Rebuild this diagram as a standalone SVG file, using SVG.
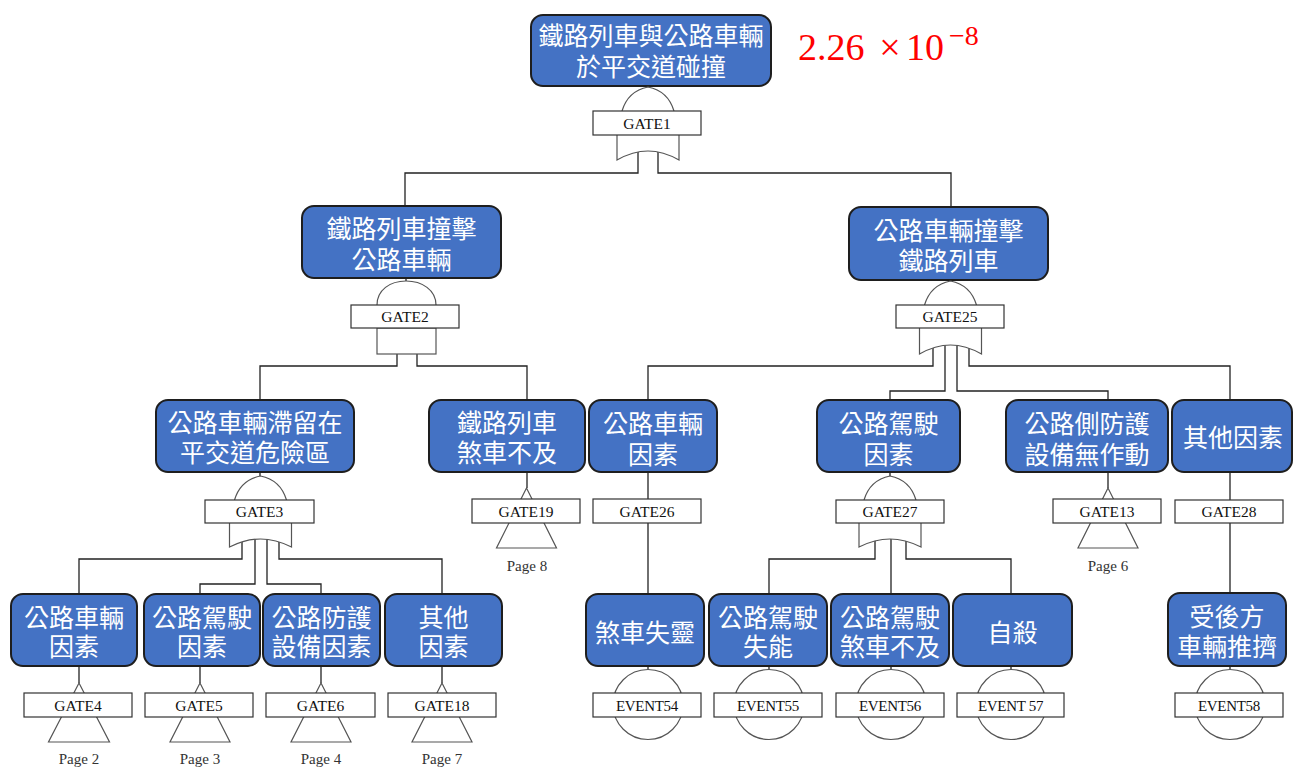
<svg xmlns="http://www.w3.org/2000/svg" width="1293" height="769" viewBox="0 0 1293 769">
<style>
.node rect{fill:#4472C4;stroke:#1e1e1e;stroke-width:2}
.nt{font-family:"Noto Sans CJK TC","Noto Sans CJK SC",sans-serif;font-size:25px;fill:#fff;text-anchor:middle}
.gate{fill:#fff;stroke:#555;stroke-width:1.2}
.gbox{fill:#fff;stroke:#333;stroke-width:1.2}
.gl{font-family:"Liberation Serif",serif;font-size:15.5px;text-anchor:middle;fill:#111}
.el{font-family:"Liberation Serif",serif;font-size:15px;text-anchor:middle;fill:#111;letter-spacing:-0.3px}
.pg{font-family:"Liberation Serif",serif;font-size:15px;text-anchor:middle;fill:#333}
.conn{fill:none;stroke:#222;stroke-width:1.3}
.prob{font-family:"Liberation Serif",serif;fill:#FF0000}
</style>
<rect width="1293" height="769" fill="#fff"/>

<g id="connectors" class="conn">
<path d="M648,86 V88"/>
<path d="M638,151 V173 H405 V206"/>
<path d="M658,151 V173 H951 V207"/>
<path d="M406,278 V281"/>
<path d="M951,280 V281"/>
<path d="M397,354 V366 H260 V400"/>
<path d="M417,354 V366 H527 V400"/>
<path d="M933,347 V366 H648 V400"/>
<path d="M945,345 V391 H890 V400"/>
<path d="M957,345 V391 H1108 V400"/>
<path d="M969,347 V366 H1230 V400"/>
<path d="M260,472 V476"/>
<path d="M890,472 V476"/>
<path d="M527,472 V488"/>
<path d="M1108,472 V488"/>
<path d="M648,472 V594"/>
<path d="M1230,472 V593"/>
<path d="M242,540 V559 H79 V594"/>
<path d="M255,538 V584 H200 V594"/>
<path d="M267,538 V584 H321 V594"/>
<path d="M279,540 V559 H442 V594"/>
<path d="M875,540 V559 H769 V594"/>
<path d="M891,538 V594"/>
<path d="M906,540 V559 H1011 V594"/>
<path d="M79,666 V683"/>
<path d="M200,666 V683"/>
<path d="M321,666 V683"/>
<path d="M442,666 V683"/>
<path d="M648,666 V670"/>
<path d="M769,666 V670"/>
<path d="M891,666 V670"/>
<path d="M1011,666 V670"/>
<path d="M1230,666 V670"/>
</g>

<text class="prob" font-size="38"><tspan x="798" y="60">2.26</tspan><tspan x="890" y="60" text-anchor="middle">×</tspan><tspan x="906" y="60">10</tspan><tspan x="949" y="45" font-size="28">−8</tspan></text>

<g id="top" class="node">
<rect x="531" y="15" width="240" height="71" rx="12"/>
<text class="nt"><tspan x="651" y="44.5">鐵路列車與公路車輛</tspan><tspan x="651" y="75.5">於平交道碰撞</tspan></text>
</g>
<g id="gate1">
<path class="gate" d="M622,111 Q628,91 648,87 Q668,91 674,111"/>
<path class="gate" d="M617,135 V160 Q633,151 648,151 Q663,151 679,160 V135"/>
<rect class="gbox" x="593" y="111" width="108" height="24"/>
<text class="gl" x="647" y="129">GATE1</text>
</g>

<g id="n-rail" class="node">
<rect x="302" y="206" width="199" height="72" rx="12"/>
<text class="nt"><tspan x="401.5" y="237.5">鐵路列車撞擊</tspan><tspan x="401.5" y="268.5">公路車輛</tspan></text>
</g>
<g id="gate2">
<path class="gate" d="M377,305 C377,290 390,281 406,281 C422,281 436,290 436,305"/>
<rect class="gate" x="377" y="328" width="59" height="26"/>
<rect class="gbox" x="351" y="305" width="108" height="23"/>
<text class="gl" x="405" y="322">GATE2</text>
</g>

<g id="n-road" class="node">
<rect x="849" y="207" width="199" height="73" rx="12"/>
<text class="nt"><tspan x="948.5" y="239.5">公路車輛撞擊</tspan><tspan x="948.5" y="269.5">鐵路列車</tspan></text>
</g>
<g id="gate25">
<path class="gate" d="M924.5,305 Q930.5,285 950.5,281 Q970.5,285 976.5,305"/>
<path class="gate" d="M919.5,328 V354 Q935.5,345 950.5,345 Q965.5,345 981.5,354 V328"/>
<rect class="gbox" x="896" y="305" width="108" height="23"/>
<text class="gl" x="950" y="322">GATE25</text>
</g>

<g id="n-stuck" class="node">
<rect x="156" y="400" width="198" height="72" rx="12"/>
<text class="nt"><tspan x="255" y="432">公路車輛滯留在</tspan><tspan x="255" y="462">平交道危險區</tspan></text>
</g>
<g id="gate3">
<path class="gate" d="M234.5,500 Q240.5,480 260.5,476 Q280.5,480 286.5,500"/>
<path class="gate" d="M229.5,523 V547 Q245.5,539 260.5,539 Q275.5,539 291.5,547 V523"/>
<rect class="gbox" x="205" y="500" width="109" height="23"/>
<text class="gl" x="259.5" y="517">GATE3</text>
</g>

<g id="n-railbrake" class="node">
<rect x="429" y="400" width="156" height="72" rx="12"/>
<text class="nt"><tspan x="507" y="432">鐵路列車</tspan><tspan x="507" y="462">煞車不及</tspan></text>
</g>
<g id="gate19">
<path class="gate" d="M526.5,488 L496.5,548 H556.5 Z"/>
<rect class="gbox" x="472" y="499" width="108" height="24"/>
<text class="gl" x="526" y="517">GATE19</text>
<text class="pg" x="527" y="571">Page 8</text>
</g>

<g id="n-vehfac" class="node">
<rect x="589" y="400" width="128" height="72" rx="12"/>
<text class="nt"><tspan x="653" y="433">公路車輛</tspan><tspan x="653" y="463.5">因素</tspan></text>
</g>
<g id="gate26">
<rect class="gbox" x="593" y="499" width="108" height="24"/>
<text class="gl" x="647" y="517">GATE26</text>
</g>

<g id="n-drvfac" class="node">
<rect x="817" y="400" width="143" height="72" rx="12"/>
<text class="nt"><tspan x="888.5" y="433">公路駕駛</tspan><tspan x="888.5" y="463.5">因素</tspan></text>
</g>
<g id="gate27">
<path class="gate" d="M864,500 Q870,480 890,476 Q910,480 916,500"/>
<path class="gate" d="M859,523 V547 Q875,539 890,539 Q905,539 921,547 V523"/>
<rect class="gbox" x="836" y="500" width="108" height="23"/>
<text class="gl" x="890" y="517">GATE27</text>
</g>

<g id="n-side" class="node">
<rect x="1006" y="400" width="162" height="72" rx="12"/>
<text class="nt"><tspan x="1087" y="433">公路側防護</tspan><tspan x="1087" y="463.5">設備無作動</tspan></text>
</g>
<g id="gate13">
<path class="gate" d="M1108,488 L1078,548 H1138 Z"/>
<rect class="gbox" x="1053" y="499" width="108" height="24"/>
<text class="gl" x="1107" y="517">GATE13</text>
<text class="pg" x="1108" y="571">Page 6</text>
</g>

<g id="n-other" class="node">
<rect x="1172" y="400" width="120" height="72" rx="12"/>
<text class="nt" x="1233" y="447">其他因素</text>
</g>
<g id="gate28">
<rect class="gbox" x="1175" y="500" width="108" height="23"/>
<text class="gl" x="1229" y="517">GATE28</text>
</g>

<g id="b-vehfac" class="node">
<rect x="11" y="594" width="126" height="72" rx="12"/>
<text class="nt"><tspan x="74" y="626.5">公路車輛</tspan><tspan x="74" y="656">因素</tspan></text>
</g>
<g id="gate4">
<path class="gate" d="M79,683 L48.5,742 H109.5 Z"/>
<rect class="gbox" x="24" y="693" width="108" height="24"/>
<text class="gl" x="78" y="710.5">GATE4</text>
<text class="pg" x="79" y="764">Page 2</text>
</g>

<g id="b-drvfac" class="node">
<rect x="144" y="594" width="116" height="72" rx="12"/>
<text class="nt"><tspan x="202" y="626.5">公路駕駛</tspan><tspan x="202" y="656">因素</tspan></text>
</g>
<g id="gate5">
<path class="gate" d="M200,683 L170,742 H230 Z"/>
<rect class="gbox" x="145" y="693" width="108" height="24"/>
<text class="gl" x="199" y="710.5">GATE5</text>
<text class="pg" x="200" y="764">Page 3</text>
</g>

<g id="b-protfac" class="node">
<rect x="263" y="594" width="117" height="72" rx="12"/>
<text class="nt"><tspan x="321.5" y="626.5">公路防護</tspan><tspan x="321.5" y="656">設備因素</tspan></text>
</g>
<g id="gate6">
<path class="gate" d="M321,683 L291,742 H351 Z"/>
<rect class="gbox" x="266" y="693" width="109" height="24"/>
<text class="gl" x="320.5" y="710.5">GATE6</text>
<text class="pg" x="321" y="764">Page 4</text>
</g>

<g id="b-other" class="node">
<rect x="385" y="594" width="117" height="72" rx="12"/>
<text class="nt"><tspan x="443.5" y="626.5">其他</tspan><tspan x="443.5" y="656">因素</tspan></text>
</g>
<g id="gate18">
<path class="gate" d="M442,683 L412,742 H472 Z"/>
<rect class="gbox" x="388" y="693" width="108" height="24"/>
<text class="gl" x="442" y="710.5">GATE18</text>
<text class="pg" x="442" y="764">Page 7</text>
</g>

<g id="b-brakefail" class="node">
<rect x="586" y="594" width="118" height="72" rx="12"/>
<text class="nt" x="645" y="642">煞車失靈</text>
</g>
<g id="event54">
<circle class="gate" cx="648" cy="704.5" r="35"/>
<rect class="gbox" x="593" y="693" width="108" height="24"/>
<text class="el" x="647" y="710.5">EVENT54</text>
</g>

<g id="b-incap" class="node">
<rect x="709" y="594" width="118" height="72" rx="12"/>
<text class="nt"><tspan x="768" y="626.5">公路駕駛</tspan><tspan x="768" y="656">失能</tspan></text>
</g>
<g id="event55">
<circle class="gate" cx="769" cy="704.5" r="35"/>
<rect class="gbox" x="714" y="693" width="108" height="24"/>
<text class="el" x="768" y="710.5">EVENT55</text>
</g>

<g id="b-drvbrake" class="node">
<rect x="831" y="594" width="118" height="72" rx="12"/>
<text class="nt"><tspan x="890" y="626.5">公路駕駛</tspan><tspan x="890" y="656">煞車不及</tspan></text>
</g>
<g id="event56">
<circle class="gate" cx="891" cy="704.5" r="35"/>
<rect class="gbox" x="836" y="693" width="108" height="24"/>
<text class="el" x="890" y="710.5">EVENT56</text>
</g>

<g id="b-suicide" class="node">
<rect x="953" y="594" width="119" height="72" rx="12"/>
<text class="nt" x="1012.5" y="642">自殺</text>
</g>
<g id="event57">
<circle class="gate" cx="1011" cy="704.5" r="35"/>
<rect class="gbox" x="957" y="693" width="107" height="24"/>
<text class="el" x="1010.5" y="710.5">EVENT 57</text>
</g>

<g id="b-pushed" class="node">
<rect x="1168" y="593" width="118" height="73" rx="12"/>
<text class="nt"><tspan x="1227" y="626">受後方</tspan><tspan x="1227" y="656">車輛推擠</tspan></text>
</g>
<g id="event58">
<circle class="gate" cx="1230" cy="704.5" r="35"/>
<rect class="gbox" x="1175" y="693" width="108" height="24"/>
<text class="el" x="1229" y="710.5">EVENT58</text>
</g>
</svg>
